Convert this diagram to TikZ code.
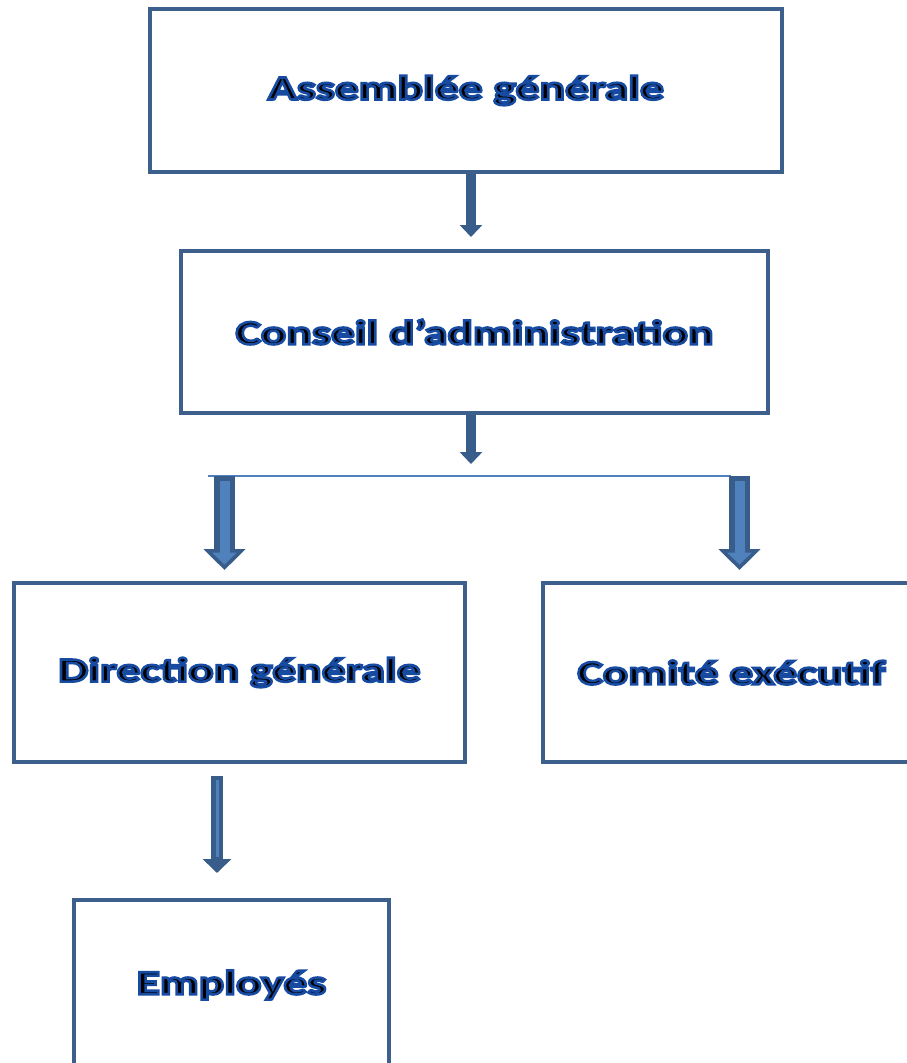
\documentclass[tikz,border=0pt]{standalone}
\usepackage{fontspec}
\setmainfont{Carlito}[FakeStretch=1.4]
\usetikzlibrary{arrows.meta}
\definecolor{boxline}{RGB}{61,95,140}
\definecolor{darkarr}{RGB}{56,93,138}
\definecolor{lightarr}{RGB}{79,129,189}
\newcommand\otext[1]{{\color{black}\special{pdf:literal direct q 2 Tr 2.6 w 0.09 0.29 0.63 RG}#1\special{pdf:literal direct 0 Tr Q}}}
\tikzset{
  box/.style={draw=boxline, line width=4pt, rectangle, inner sep=0pt,
    font=\fontsize{34}{40}\selectfont\bfseries},
  smallarr/.style={draw=darkarr, line width=10pt, -{Triangle[width=22pt,length=12pt]}},
  bigout/.style={draw=darkarr, line width=21pt, -{Triangle[width=41pt,length=21pt]}},
  bigin/.style={draw=lightarr, line width=10pt, -{Triangle[width=24pt,length=12pt]}},
  midout/.style={draw=darkarr, line width=12pt, -{Triangle[width=28pt,length=14pt]}},
  midin/.style={draw=lightarr, line width=3pt},
  hline/.style={draw=lightarr, line width=2pt},
}
\begin{document}
\begin{tikzpicture}[x=1pt,y=-1pt]
\useasboundingbox (0,0) rectangle (907,1063);
\node[box, minimum width=632pt, minimum height=163pt] (b1) at (466,90.5) {\otext{Assemblée générale}};
\node[box, minimum width=587pt, minimum height=162pt] (b2) at (474.5,332) {\otext{Conseil d’administration}};
\node[box, minimum width=451pt, minimum height=179pt] (b3) at (239.5,672.5) {\otext{Direction générale}};
\node[box, minimum width=377pt, minimum height=179pt] (b4) at (731.5,672.5) {\otext{Comité exécutif}};
\node[box, minimum width=315pt, minimum height=170pt] (b5) at (231.5,985) {\otext{Employés}};
% small arrows
\coordinate (t1) at (471,237);
\coordinate (t2) at (471,464);
\draw[smallarr] (t1 |- b1.south) -- (t1);
\draw[smallarr] (t2 |- b2.south) -- (t2);
% horizontal line
\coordinate (hl) at (208,476);
\coordinate (hr) at (731,476);
\draw[hline] (hl) -- (hr);
% big arrows
\coordinate (lt) at (224.5,570);
\coordinate (rt) at (739.5,570);
\draw[bigout] (lt |- hl) -- (lt);
\draw[bigin] ([yshift=-5pt]lt |- hl) -- ([yshift=5.5pt]lt);
\draw[bigout] (rt |- hr) -- (rt);
\draw[bigin] ([yshift=-5pt]rt |- hr) -- ([yshift=5.5pt]rt);
% arrow to employees
\coordinate (et) at (217,873);
\coordinate (es) at (217,776);
\draw[midout] (es) -- (et);
\draw[midin] ([yshift=-4pt]es) -- ([yshift=16pt]et);
\end{tikzpicture}
\end{document}
